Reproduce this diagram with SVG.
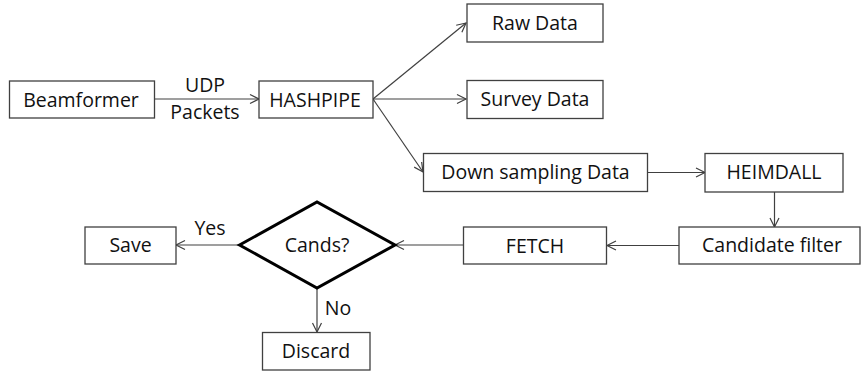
<svg xmlns="http://www.w3.org/2000/svg" width="861" height="372" viewBox="0 0 861 372">
<style>
.box{fill:#fff;stroke:#404040;stroke-width:1.3}
.dia{fill:#fff;stroke:#000;stroke-width:3;stroke-linejoin:miter}
.t{font-family:"Open Sans","Liberation Sans",sans-serif;font-size:19.5px;fill:#111;text-anchor:middle}
.c{stroke:#404040;stroke-width:1.2;fill:none}
</style>
<defs>
<marker id="ah" markerUnits="userSpaceOnUse" markerWidth="12" markerHeight="12" refX="10" refY="6" orient="auto">
<path d="M1,1.5 L10,6 L1,10.5" fill="none" stroke="#404040" stroke-width="1.2"/>
</marker>
</defs>
<g id="connectors">
<line class="c" x1="154" y1="99" x2="259" y2="99" marker-end="url(#ah)"/>
<line class="c" x1="373" y1="99" x2="466" y2="23" marker-end="url(#ah)"/>
<line class="c" x1="373" y1="99" x2="466" y2="99" marker-end="url(#ah)"/>
<line class="c" x1="373" y1="99" x2="423" y2="172" marker-end="url(#ah)"/>
<line class="c" x1="647" y1="172.5" x2="705" y2="172.5" marker-end="url(#ah)"/>
<line class="c" x1="774.5" y1="192" x2="774.5" y2="227" marker-end="url(#ah)"/>
<line class="c" x1="679" y1="245.5" x2="607" y2="245.5" marker-end="url(#ah)"/>
<line class="c" x1="463" y1="245" x2="395" y2="245" marker-end="url(#ah)"/>
<line class="c" x1="239" y1="245" x2="176" y2="245" marker-end="url(#ah)"/>
<line class="c" x1="317" y1="288" x2="317" y2="332" marker-end="url(#ah)"/>
<text class="t" x="205" y="92">UDP</text>
<text class="t" x="205" y="119">Packets</text>
<text class="t" x="210" y="235">Yes</text>
<text class="t" x="338" y="315">No</text>
</g>
<g id="beamformer"><rect class="box" x="9.5" y="81" width="145" height="37"/><text class="t" x="81" y="106.5">Beamformer</text></g>
<g id="hashpipe"><rect class="box" x="259" y="81" width="114" height="37"/><text class="t" x="315" y="106.5">HASHPIPE</text></g>
<g id="rawdata"><rect class="box" x="467" y="4" width="136" height="38"/><text class="t" x="535" y="29.5">Raw Data</text></g>
<g id="surveydata"><rect class="box" x="467" y="80.5" width="136" height="38"/><text class="t" x="535" y="106">Survey Data</text></g>
<g id="downsampling"><rect class="box" x="423.5" y="153.5" width="224" height="38"/><text class="t" x="535.5" y="178.5">Down sampling Data</text></g>
<g id="heimdall"><rect class="box" x="705" y="153.5" width="138" height="38.5"/><text class="t" x="774" y="178.5">HEIMDALL</text></g>
<g id="candidatefilter"><rect class="box" x="679" y="227" width="181" height="37"/><text class="t" x="772" y="252">Candidate filter</text></g>
<g id="fetch"><rect class="box" x="463.5" y="227" width="143" height="37"/><text class="t" x="535" y="252.5">FETCH</text></g>
<g id="cands"><polygon class="dia" points="239.5,245 317,202 395,245 317,288"/><text class="t" x="317" y="252">Cands?</text></g>
<g id="save"><rect class="box" x="85" y="227" width="91" height="37"/><text class="t" x="130.5" y="252">Save</text></g>
<g id="discard"><rect class="box" x="262.5" y="332.5" width="107.5" height="37.5"/><text class="t" x="316" y="358">Discard</text></g>
</svg>
